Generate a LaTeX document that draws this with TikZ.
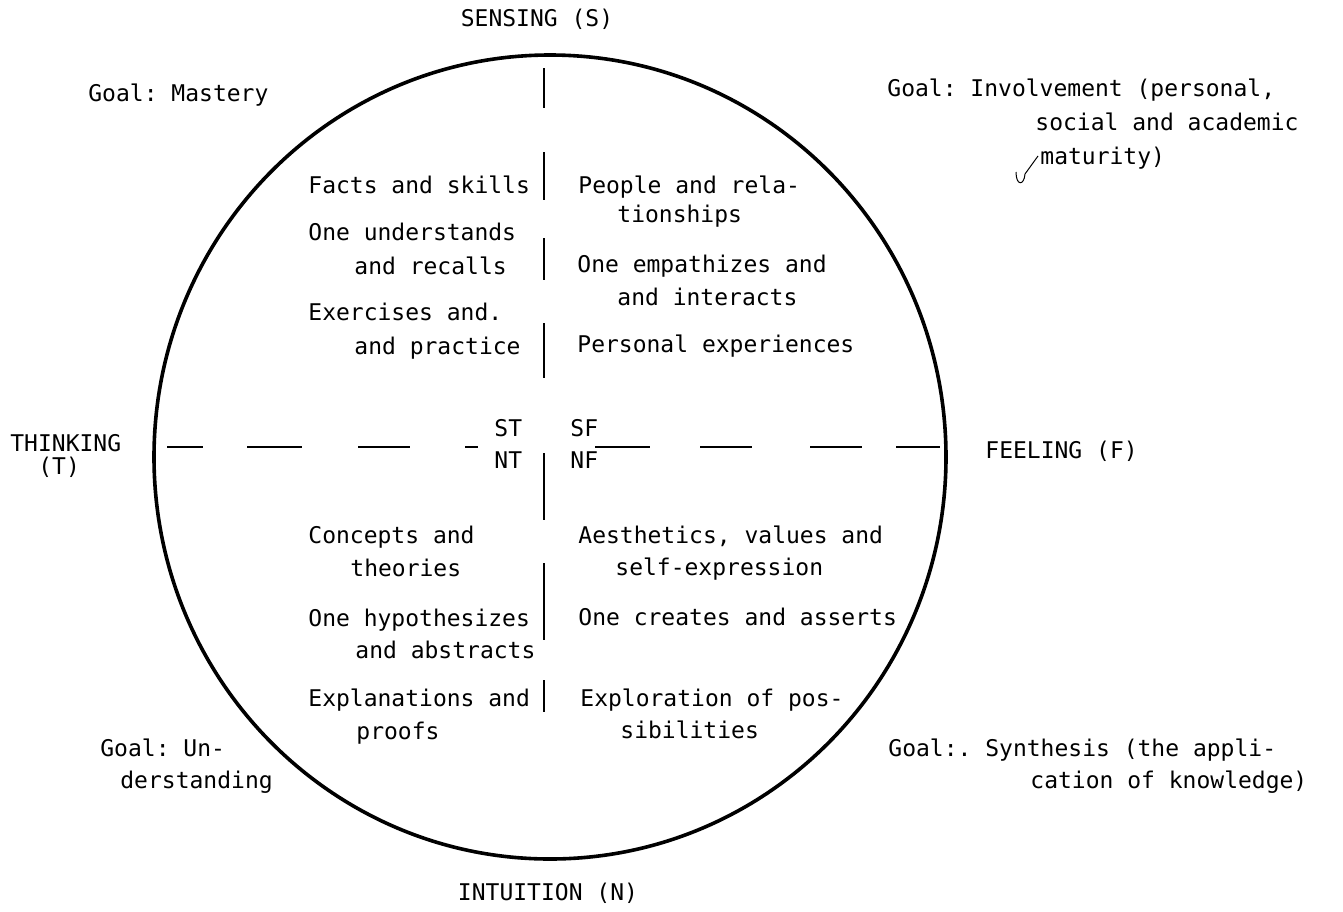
\documentclass[tikz,border=0pt]{standalone}
\usepackage{fontspec}
\setmonofont{DejaVu Sans Mono}
\usepackage{tikz}

\begin{document}
\begin{tikzpicture}[x=0.5pt,y=-0.5pt,
  txt/.style={font=\ttfamily\fontsize{11.5}{14}\selectfont, inner sep=0pt, anchor=base west},
  rim/.style={line width=1.8pt},
  bar/.style={line width=1pt},
  hdash/.style={line width=1.4pt}]
\useasboundingbox (0,0) rectangle (1343,911);

% the circle
\draw[rim] (550,457) ellipse (198pt and 201pt);

% horizontal axis, broken by hand
\draw[hdash] (167,447) -- (203,447);
\draw[hdash] (247,447) -- (302,447);
\draw[hdash] (358,447) -- (410,447);
\draw[hdash] (465,447) -- (478,447);
\draw[hdash] (595,447) -- (650,447);
\draw[hdash] (700,447) -- (752,447);
\draw[hdash] (810,447) -- (862,447);
\draw[hdash] (896,447) -- (940,447);

% vertical axis
\draw[bar] (544,68) -- (544,108);
\draw[bar] (544,152) -- (544,200);
\draw[bar] (544,238) -- (544,280);
\draw[bar] (544,323) -- (544,378);
\draw[bar] (544,453) -- (544,520);
\draw[bar] (544,563) -- (544,640);
\draw[bar] (544,680) -- (544,712);

% poles
\node[txt, anchor=base] (sens) at (537,26) {SENSING (S)};
\node[txt, anchor=base] (intu) at (548,900) {INTUITION (N)};
\node[txt] (think) at (10,451) {THINKING};
\node[txt] (thinkT) at (38,474) {(T)};
\node[txt] (feel) at (985,458) {FEELING (F)};

% goals
\node[txt] (gm) at (88,101) {Goal: Mastery};
\node[txt] (gi1) at (887,96) {Goal: Involvement (personal,};
\node[txt] (gi2) at (1035,130) {social and academic};
\node[txt] (gi3) at (1040,164) {maturity)};
\node[txt] (gu1) at (100,756) {Goal: Un-};
\node[txt] (gu2) at (120,788) {derstanding};
\node[txt] (gs1) at (888,756) {Goal:. Synthesis (the appli-};
\node[txt] (gs2) at (1030,788) {cation of knowledge)};

% pencil tick under maturity
\draw[line width=0.5pt] (1016,172) .. controls (1016,186) and (1024,186) .. (1025,174) -- (1038,156);

% ST quadrant
\node[txt] (fs) at (308,193) {Facts and skills};
\node[txt] (ou1) at (308,240) {One understands};
\node[txt] (ou2) at (354,274) {and recalls};
\node[txt] (ex1) at (308,320) {Exercises and.};
\node[txt] (ex2) at (354,354) {and practice};

% SF quadrant
\node[txt] (pr1) at (578,193) {People and rela-};
\node[txt] (pr2) at (617,222) {tionships};
\node[txt] (oe1) at (577,272) {One empathizes and};
\node[txt] (oe2) at (617,305) {and interacts};
\node[txt] (pe) at (577,352) {Personal experiences};

% quadrant names
\node[txt] (st) at (494,436) {ST};
\node[txt] (sf) at (570,436) {SF};
\node[txt] (nt) at (494,468) {NT};
\node[txt] (nf) at (570,468) {NF};

% NT quadrant
\node[txt] (co1) at (308,543) {Concepts and};
\node[txt] (co2) at (350,576) {theories};
\node[txt] (oh1) at (308,626) {One hypothesizes};
\node[txt] (oh2) at (355,658) {and abstracts};
\node[txt] (ep1) at (308,706) {Explanations and};
\node[txt] (ep2) at (356,739) {proofs};

% NF quadrant
\node[txt] (ae1) at (578,543) {Aesthetics, values and};
\node[txt] (ae2) at (615,575) {self-expression};
\node[txt] (oc) at (578,625) {One creates and asserts};
\node[txt] (xp1) at (580,706) {Exploration of pos-};
\node[txt] (xp2) at (620,738) {sibilities};
\end{tikzpicture}
\end{document}
